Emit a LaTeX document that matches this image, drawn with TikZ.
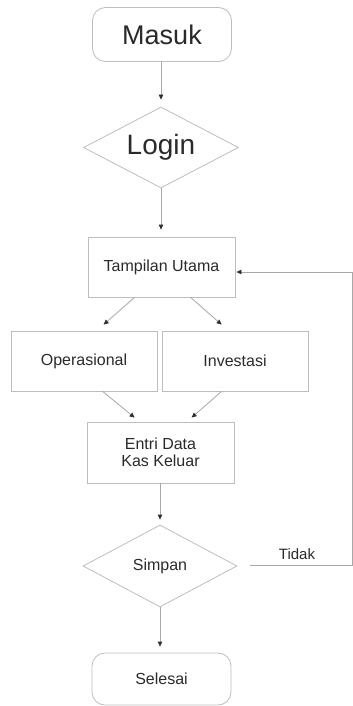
\documentclass[tikz,border=0pt]{standalone}
\usepackage{fontspec}
\setmainfont{Liberation Sans}
\usetikzlibrary{shapes.geometric,arrows.meta}
\definecolor{boxline}{HTML}{BDBDBD}
\definecolor{linkline}{HTML}{A8A8A8}
\definecolor{tipcol}{HTML}{303030}
\definecolor{txt}{HTML}{2A2A2A}
\tikzset{
  base/.style={draw=boxline, line width=0.8pt, text=txt, inner sep=2pt, align=center},
  terminal/.style={base, rounded corners=13pt, minimum width=139pt, minimum height=54pt},
  procbox/.style={base, rectangle, minimum width=147pt, minimum height=60pt, font=\fontsize{16}{16}\selectfont},
  decision/.style={base, diamond, aspect=1.9, inner sep=0pt, minimum width=155pt, minimum height=81pt},
  link/.style={draw=linkline, line width=0.8pt, -{Triangle[length=5pt,width=4.5pt,color=tipcol]}},
  plain/.style={draw=linkline, line width=0.8pt}
}
\begin{document}
\begin{tikzpicture}[x=1pt,y=-1pt]
\useasboundingbox (0,0) rectangle (353,706);
% main column
\node[terminal, font=\fontsize{27}{27}\selectfont] (masuk) at (162,34.5) {Masuk};
\node[decision, font=\fontsize{28}{28}\selectfont] (login) at (161,147.5) {Login};
\node[procbox] (tu) at (161.5,267) {Tampilan Utama};
\node[procbox, minimum width=146pt] (op) at (84,361) {Operasional};
\node[procbox, minimum width=146pt] (inv) at (235,361) {Investasi};
\node[procbox, minimum height=61pt, font=\fontsize{16}{16.5}\selectfont] (en) at (160.5,452.5) {Entri Data\\Kas Keluar};
\node[decision, minimum width=154pt, minimum height=82pt, font=\fontsize{16}{16}\selectfont] (simpan) at (160,566) {Simpan};
\node[terminal, minimum height=52pt, font=\fontsize{16}{16}\selectfont] (selesai) at (161.5,679) {Selesai};

% straight flow
\draw[link, shorten >=7pt] (masuk.south -| 161,0) -- (login.north -| 161,0);
\draw[link, shorten >=7pt] (login.south -| 161,0) -- (tu.north -| 161,0);
\draw[link, shorten >=5pt] (en.south -| 160,0) -- (simpan.north -| 160,0);
\draw[link, shorten >=6pt] (simpan.south -| 160,0) -- (selesai.north -| 160,0);

% branching to the two kinds of expense
\draw[link] ([xshift=47pt]tu.south west) -- ([xshift=93pt,yshift=6pt]op.north west);
\draw[link] ([xshift=103pt]tu.south west) -- ([xshift=60pt,yshift=6pt]inv.north west);
\draw[link] ([xshift=92pt]op.south west) -- ([xshift=48pt,yshift=4pt]en.north west);
\draw[link] ([xshift=60pt]inv.south west) -- ([xshift=105pt,yshift=4pt]en.north west);

% "Tidak" loop back to the main screen
\coordinate (t1) at (250,565);
\coordinate (t2) at (352,565);
\coordinate (t3) at (352,272);
\draw[plain] (t1) -- (t2) -- (t3);
\draw[link, shorten >=1pt] (t3) -- (tu.east |- t3);
\node[text=txt, font=\fontsize{15}{15}\selectfont, anchor=south] (tidak) at (297,563) {Tidak};
\end{tikzpicture}
\end{document}
